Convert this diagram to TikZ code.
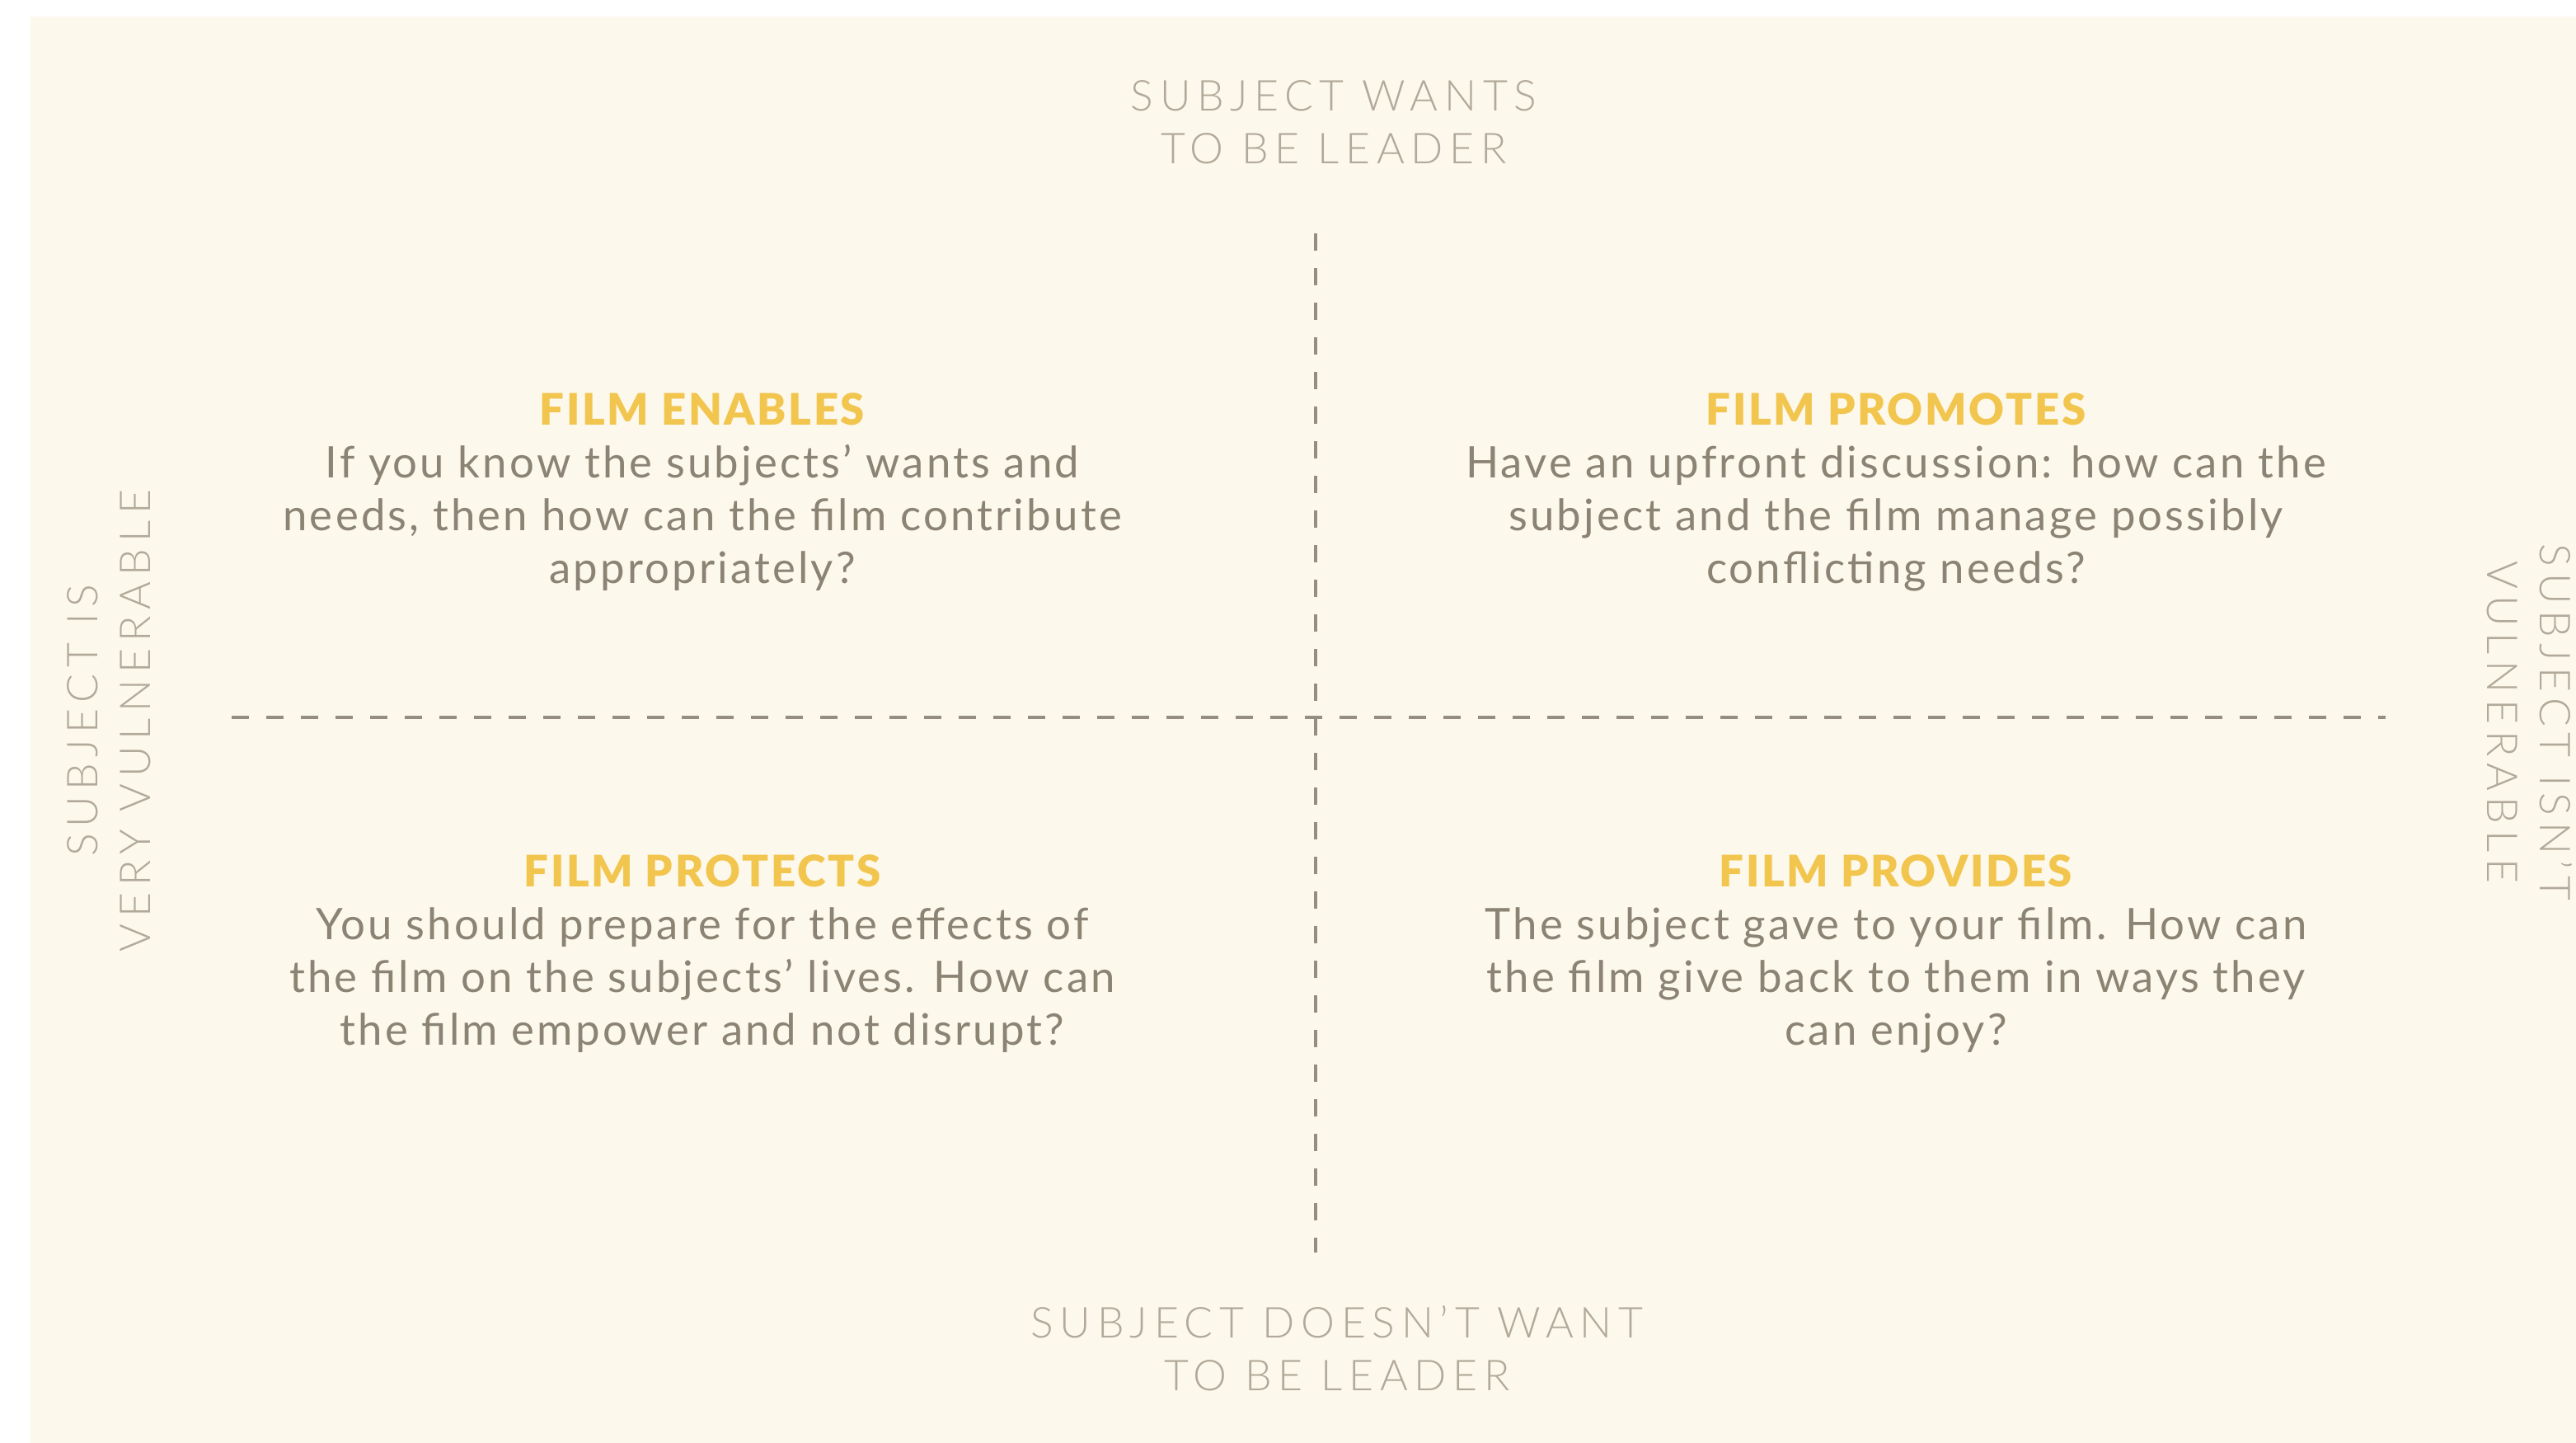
\documentclass[tikz,border=0pt]{standalone}
\usepackage{fontspec}
\setmainfont{Lato}[LetterSpace=6]
\newfontfamily\axisfont{Lato Light}[LetterSpace=15]
\newfontfamily\headfont{Lato Black}[LetterSpace=5]
\usepackage{xcolor}
\usepackage{tikz}
\usetikzlibrary{positioning,calc}

\definecolor{cream}{HTML}{FCF8EC}
\definecolor{axisgrey}{HTML}{B1A999}
\definecolor{textgrey}{HTML}{8B8374}
\definecolor{dashgrey}{HTML}{958D7F}
\definecolor{filmgold}{HTML}{F2C54E}

\newcommand{\quadhead}[1]{\textcolor{filmgold}{\headfont #1}}

\begin{document}
\begin{tikzpicture}[
    axislabel/.style={font=\axisfont\fontsize{14.7}{18.2}\selectfont, text=axisgrey, align=center, inner sep=0pt},
    quadtext/.style={font=\fontsize{15}{18.2}\selectfont, text=textgrey, align=center, inner sep=0pt, anchor=north},
    divider/.style={draw=dashgrey, line width=1.4pt, dash pattern=on 0.21cm off 0.21cm}
]
\useasboundingbox (0,0) rectangle (31.25,17.5);
\fill[cream] (0.37,0) rectangle (31.25,17.3);

% Axes
\coordinate (vtop) at (15.96,14.67);
\coordinate (vbot) at (15.96,2.31);
\coordinate (hleft) at (2.81,8.80);
\coordinate (hright) at (28.94,8.80);
\draw[divider] (vtop) -- (vbot);
\draw[divider] (hleft) -- (hright);

% Axis labels
\node[axislabel, anchor=north] (leader) at (16.18,16.53) {SUBJECT WANTS\\TO BE LEADER};
\node[axislabel, anchor=north] (noleader) at (16.22,1.67) {SUBJECT DOESN’T WANT\\TO BE LEADER};
\node[axislabel, rotate=90] (vulnerable) at (1.32,8.76) {SUBJECT IS\\VERY VULNERABLE};
\node[axislabel, rotate=-90] (notvulnerable) at (30.69,8.74) {SUBJECT ISN’T\\VULNERABLE};

% Quadrants
\node[quadtext] (enables) at (8.52,12.74) {\quadhead{FILM ENABLES}\\If you know the subjects’ wants and\\needs, then how can the film contribute\\appropriately?};
\node[quadtext] (promotes) at (23.0,12.74) {\quadhead{FILM PROMOTES}\\Have an upfront discussion: how can the\\subject and the film manage possibly\\conflicting needs?};
\node[quadtext] (protects) at (8.52,7.14) {\quadhead{FILM PROTECTS}\\You should prepare for the effects of\\the film on the subjects’ lives. How can\\the film empower and not disrupt?};
\node[quadtext] (provides) at (23.0,7.14) {\quadhead{FILM PROVIDES}\\The subject gave to your film. How can\\the film give back to them in ways they\\can enjoy?};

\end{tikzpicture}
\end{document}
